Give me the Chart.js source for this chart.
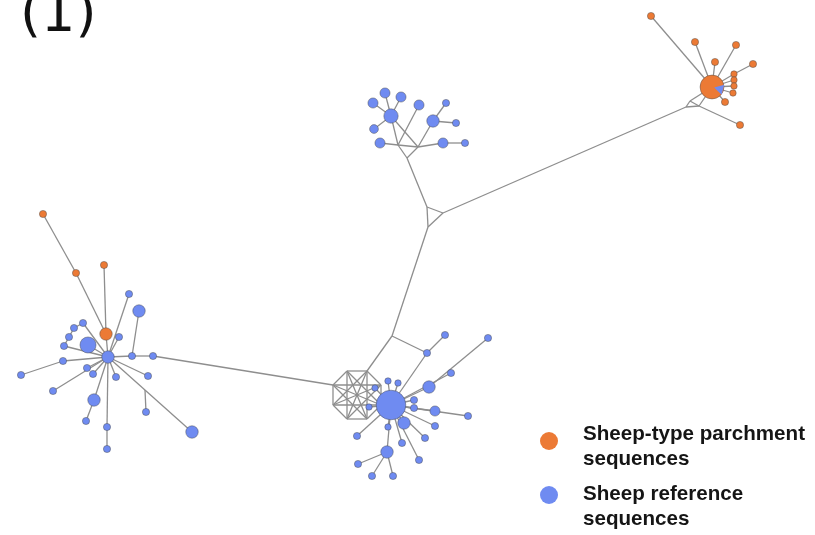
<!DOCTYPE html>
<html>
<head>
<meta charset="utf-8">
<title>Sheep haplotype network</title>
<script src="https://cdn.jsdelivr.net/npm/chart.js@4.4.1/dist/chart.umd.min.js"></script>
<style>
  html, body { margin: 0; padding: 0; background: #ffffff; }
  #wrap { position: relative; width: 815px; height: 535px; overflow: hidden; }
  #net { position: absolute; left: 0; top: 0; }
  .panel-tag {
    position: absolute; left: 20px; top: -14px;
    font-family: "DejaVu Sans", sans-serif; font-size: 54px; line-height: 54px;
    color: #111; white-space: nowrap;
  }
  .key-dot { position: absolute; width: 18px; height: 18px; border-radius: 50%; }
  .key-text {
    position: absolute; left: 583px;
    font-family: "Liberation Sans", Arial, sans-serif; font-weight: bold;
    font-size: 20.6px; line-height: 20px; color: #151515; white-space: nowrap;
  }
</style>
</head>
<body>
<div id="wrap">
  <canvas id="net" width="815" height="535"></canvas>
  <div class="panel-tag">(1)</div>
  <div class="key-dot" id="keyParchment" style="left:540px; top:432px;"></div>
  <div class="key-text" style="top:423px;">Sheep-type parchment</div>
  <div class="key-text" style="top:448px;">sequences</div>
  <div class="key-dot" id="keyReference" style="left:540px; top:486px;"></div>
  <div class="key-text" style="top:483px;">Sheep reference</div>
  <div class="key-text" style="top:508px;">sequences</div>
</div>
<script>
// Haplotypes as [x, y, number of sequences]
const parchmentHaplotypes = [
  [712, 87, 11], [651, 16, 1], [695, 42, 1], [736, 45, 1], [715, 62, 1], [753, 64, 1],
  [734, 74, 0.8], [734, 80, 0.8], [734, 86, 0.8], [733, 93, 0.8], [725, 102, 1], [740, 125, 1],
  [43, 214, 1], [76, 273, 1], [104, 265, 1], [106, 334, 3]
];

const referenceHaplotypes = [
  // northern group
  [373, 103, 2], [385, 93, 2], [401, 97, 2], [419, 105, 2], [446, 103, 1], [391, 116, 4],
  [433, 121, 3], [456, 123, 1], [374, 129, 1.5], [380, 143, 2], [443, 143, 2], [465, 143, 1],
  // central group
  [391, 405, 17], [445, 335, 1], [488, 338, 1], [427, 353, 1], [451, 373, 1], [429, 387, 3],
  [414, 400, 1], [414, 408, 1], [435, 411, 2], [468, 416, 1], [404, 423, 3], [435, 426, 1],
  [425, 438, 1], [402, 443, 1], [387, 452, 3], [419, 460, 1], [357, 436, 1], [358, 464, 1],
  [372, 476, 1], [393, 476, 1], [388, 381, 0.8], [398, 383, 0.8], [375, 388, 0.8], [369, 407, 0.8],
  [388, 427, 0.8],
  // western group
  [108, 357, 3], [129, 294, 1], [139, 311, 3], [83, 323, 1], [74, 328, 1], [69, 337, 1],
  [64, 346, 1], [88, 345, 5], [119, 337, 1], [132, 356, 1], [153, 356, 1], [63, 361, 1],
  [87, 368, 1], [93, 374, 1], [116, 377, 1], [148, 376, 1], [21, 375, 1], [53, 391, 1],
  [94, 400, 3], [86, 421, 1], [146, 412, 1], [107, 427, 1], [192, 432, 3], [107, 449, 1]
];

// Reference share inside the large mixed parchment haplotype
const mixedShare = [[720, 89]];

// Mutational links as [x1, y1, x2, y2]
const linksNorthEast = [
  [712, 87, 651, 16], [712, 87, 695, 42], [712, 87, 736, 45], [712, 87, 715, 62],
  [734, 74, 753, 64], [712, 87, 734, 74], [712, 87, 734, 80], [712, 87, 734, 86],
  [712, 87, 733, 93], [712, 87, 725, 102], [690, 101, 712, 87], [699, 106, 712, 87],
  [686, 107, 690, 101], [686, 107, 699, 106], [690, 101, 699, 106], [699, 106, 740, 125],
  [686, 107, 443, 213]
];

const linksNorth = [
  [427, 207, 443, 213], [443, 213, 428, 227], [428, 227, 427, 207],
  [427, 207, 407, 158], [407, 158, 398, 145], [398, 145, 418, 147], [418, 147, 407, 158],
  [398, 145, 380, 143], [418, 147, 443, 143], [443, 143, 465, 143],
  [391, 116, 418, 147], [419, 105, 398, 145], [391, 116, 398, 145],
  [391, 116, 373, 103], [391, 116, 385, 93], [391, 116, 401, 97], [391, 116, 374, 129],
  [433, 121, 418, 147], [433, 121, 446, 103], [433, 121, 456, 123]
];

const linksCentre = [
  [428, 227, 392, 336], [392, 336, 427, 353], [392, 336, 367, 371], [427, 353, 445, 335],
  [427, 353, 391, 405], [429, 387, 488, 338], [429, 387, 391, 405], [391, 405, 451, 373],
  [391, 405, 414, 400], [391, 405, 414, 408], [391, 405, 435, 411], [391, 405, 468, 416],
  [391, 405, 404, 423], [391, 405, 435, 426], [391, 405, 425, 438], [391, 405, 402, 443],
  [391, 405, 387, 452], [391, 405, 419, 460], [391, 405, 357, 436], [391, 405, 388, 381],
  [391, 405, 398, 383], [391, 405, 375, 388], [391, 405, 369, 407], [391, 405, 388, 427],
  [387, 452, 358, 464], [387, 452, 372, 476], [387, 452, 393, 476],
  [333, 385, 153, 356]
];

// Reticulated median-vector box next to the central haplotype
const meshCorners = [
  [381, 405], [367, 419], [347, 419], [333, 405],
  [333, 385], [347, 371], [367, 371], [381, 385]
];
const meshLinks = [
  [0, 1], [1, 2], [2, 3], [3, 4], [4, 5], [5, 6], [6, 7], [7, 0],
  [0, 3], [1, 4], [2, 5], [3, 6], [4, 7], [5, 0], [6, 1], [7, 2],
  [0, 4], [2, 6], [1, 5], [3, 7]
];

const linksWest = [
  [43, 214, 76, 273], [76, 273, 106, 334], [104, 265, 106, 334], [106, 334, 108, 357],
  [129, 294, 108, 357], [139, 311, 132, 356], [108, 357, 132, 356], [132, 356, 153, 356],
  [108, 357, 119, 337], [108, 357, 88, 345], [83, 323, 74, 328], [74, 328, 69, 337],
  [69, 337, 64, 346], [83, 323, 108, 357], [64, 346, 108, 357], [21, 375, 63, 361],
  [63, 361, 108, 357], [53, 391, 108, 357], [87, 368, 108, 357], [93, 374, 108, 357],
  [116, 377, 108, 357], [148, 376, 108, 357], [94, 400, 108, 357], [86, 421, 94, 400],
  [107, 427, 108, 357], [107, 449, 107, 427], [192, 432, 108, 357], [146, 412, 145, 390]
];

const parchmentColour = '#ec7a35';
const referenceColour = '#6f8bf1';
const linkColour = '#8e8e8e';

document.getElementById('keyParchment').style.background = parchmentColour;
document.getElementById('keyReference').style.background = referenceColour;

const nodeRadius = n => 3.6 * Math.sqrt(n);

function linkDataset(seg) {
  return {
    data: [{ x: seg[0], y: seg[1] }, { x: seg[2], y: seg[3] }],
    showLine: true,
    borderColor: linkColour,
    borderWidth: 1.3,
    pointRadius: 0,
    order: 10
  };
}

const allLinks = [].concat(
  linksNorthEast, linksNorth, linksCentre, linksWest,
  meshLinks.map(([a, b]) => [meshCorners[a][0], meshCorners[a][1], meshCorners[b][0], meshCorners[b][1]])
);

function haplotypeDataset(rows, colour) {
  return {
    data: rows.map(([x, y, n]) => ({ x, y, n })),
    pointRadius: ctx => nodeRadius(ctx.raw.n),
    pointBackgroundColor: colour,
    pointBorderColor: 'rgba(70,70,70,0.55)',
    pointBorderWidth: 0.8,
    order: 2
  };
}

const datasets = allLinks.map(linkDataset);
datasets.push(haplotypeDataset(referenceHaplotypes, referenceColour));
datasets.push(haplotypeDataset(parchmentHaplotypes, parchmentColour));
datasets.push({
  data: mixedShare.map(([x, y]) => ({ x, y })),
  pointStyle: 'triangle',
  rotation: 285,
  pointRadius: 6,
  pointBackgroundColor: referenceColour,
  pointBorderWidth: 0,
  order: 0
});

new Chart(document.getElementById('net'), {
  type: 'scatter',
  data: { datasets },
  options: {
    responsive: false,
    animation: false,
    events: [],
    layout: { padding: 0, autoPadding: false },
    plugins: { legend: { display: false }, tooltip: { enabled: false } },
    scales: {
      x: { type: 'linear', min: 0, max: 815, display: false },
      y: { type: 'linear', min: 0, max: 535, reverse: true, display: false }
    }
  }
});
</script>
</body>
</html>
